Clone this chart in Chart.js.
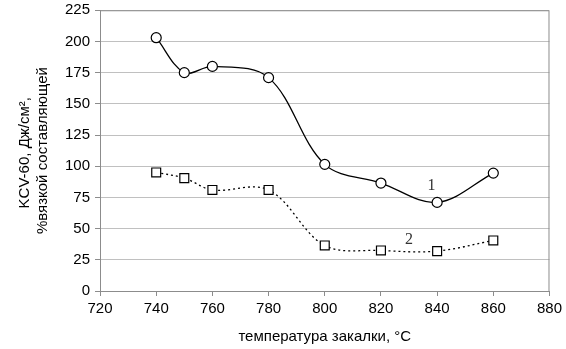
<!DOCTYPE html>
<html>
<head>
<meta charset="utf-8">
<script src="https://cdn.jsdelivr.net/npm/chart.js@4"></script>
<style>
  html, body { margin: 0; padding: 0; background: #fff; }
  #wrap { width: 566px; height: 349px; }
</style>
</head>
<body>
<div id="wrap"><canvas id="myChart"></canvas></div>
<script>
// values
const temps = [740, 750, 760, 780, 800, 820, 840, 860];
const kcv = [203, 175, 180, 171, 101.5, 86.5, 71, 94.5];
const viscous = [95, 90.5, 81, 81, 36.5, 32.5, 32, 40.5];
const curveLabels = ['1', '2'];
const curveLabelX = [838, 830];
const curveLabelY = [84, 41];

const xTitle = 'температура закалки, °C';
const yTitle = ['KCV-60, Дж/см², ', '%вязкой составляющей'];

const toPoints = (ys) => temps.map((t, i) => ({ x: t, y: ys[i] }));

// frame around the plot area + the "1" / "2" curve captions
const framePlugin = {
  id: 'frame',
  afterDatasetsDraw(chart) {
    const { ctx, chartArea: a, scales } = chart;
    ctx.save();
    ctx.strokeStyle = '#8c8c8c';
    ctx.lineWidth = 1;
    ctx.beginPath();
    ctx.moveTo(a.left, a.top + 0.5);
    ctx.lineTo(a.right - 0.5, a.top + 0.5);
    ctx.lineTo(a.right - 0.5, a.bottom);
    ctx.stroke();
    ctx.fillStyle = '#333';
    ctx.font = '16px "Liberation Serif", serif';
    ctx.textAlign = 'center';
    ctx.textBaseline = 'middle';
    curveLabels.forEach((txt, i) => {
      ctx.fillText(txt, scales.x.getPixelForValue(curveLabelX[i]), scales.y.getPixelForValue(curveLabelY[i]));
    });
    ctx.restore();
  }
};

const font = { family: '"Liberation Sans", Arial, sans-serif', size: 15 };

var ctx = document.getElementById('myChart').getContext('2d');
var chart = new Chart(ctx, {
  type: 'line',
  data: {
    datasets: [{
      label: '1',
      data: toPoints(kcv),
      borderColor: '#000',
      borderWidth: 1.3,
      tension: 0.35,
      pointStyle: 'circle',
      pointRadius: 5,
      pointBackgroundColor: '#fff',
      pointBorderColor: '#000',
      pointBorderWidth: 1.2
    }, {
      label: '2',
      data: toPoints(viscous),
      borderColor: '#000',
      borderWidth: 1.3,
      borderDash: [2, 3],
      tension: 0.35,
      pointStyle: 'rect',
      pointRadius: 6.3,
      pointBackgroundColor: '#fff',
      pointBorderColor: '#000',
      pointBorderWidth: 1.2
    }]
  },
  options: {
    responsive: true,
    maintainAspectRatio: false,
    animation: false,
    layout: { padding: { top: 0, right: 7, left: 16, bottom: 3 } },
    plugins: { legend: { display: false }, tooltip: { enabled: false } },
    scales: {
      x: {
        type: 'linear',
        min: 720,
        max: 880,
        ticks: { stepSize: 20, color: '#000', font: font, padding: 4, maxRotation: 0 },
        grid: { drawOnChartArea: false, drawTicks: true, tickLength: 5, color: '#8c8c8c' },
        border: { color: '#8c8c8c' },
        title: { display: true, text: xTitle, color: '#000', font: font, padding: { top: 6, bottom: 0 } }
      },
      y: {
        min: 0,
        max: 225,
        ticks: { stepSize: 25, color: '#000', font: { family: font.family, size: 15, lineHeight: 0.7 }, padding: 5 },
        grid: { color: '#c0c0c0', tickLength: 5, tickColor: '#8c8c8c' },
        border: { color: '#8c8c8c' },
        title: { display: true, text: yTitle, color: '#000', font: font, padding: { top: 0, bottom: 8 } }
      }
    }
  },
  plugins: [framePlugin]
});
</script>
</body>
</html>
